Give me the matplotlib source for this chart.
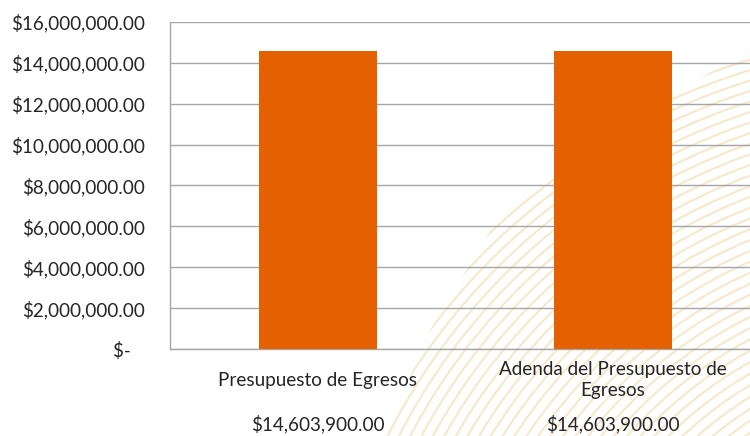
import matplotlib.pyplot as plt
import numpy as np
from matplotlib.patches import Polygon, Circle

categorias = ['Presupuesto de Egresos', 'Adenda del Presupuesto de\nEgresos']
valores = [14603900, 14603900]
etiquetas_valor = ['$14,603,900.00', '$14,603,900.00']
ticks = [0, 2000000, 4000000, 6000000, 8000000, 10000000, 12000000, 14000000, 16000000]

plt.rcParams['font.family'] = ['Lato', 'DejaVu Sans']

fig = plt.figure(figsize=(7.5, 4.36), dpi=100)
fig.patch.set_facecolor('white')

# fondo rayado tenue (esquina inferior derecha), arcos concentricos
bg = fig.add_axes([0, 0, 1, 1], zorder=0)
bg.set_xlim(0, 750)
bg.set_ylim(436, 0)
bg.set_aspect('auto')
bg.axis('off')
zona = Polygon([(385, 436), (430, 330), (500, 215), (580, 150), (670, 95),
                (750, 50), (750, 436)], closed=True, facecolor='none', edgecolor='none')
bg.add_patch(zona)
for r in np.arange(150, 900, 10):
    c = Circle((950, 720), r, facecolor='none', edgecolor='#F4E2B8', lw=1.5, alpha=0.75)
    bg.add_patch(c)
    c.set_clip_path(zona)

ax = fig.add_axes([170 / 750, 1 - 349 / 436, 590 / 750, 327 / 436], zorder=1)
ax.patch.set_alpha(0)
x = np.arange(len(categorias))
ax.bar(x, valores, width=0.4, color='#E46000', zorder=3)
ax.set_xlim(-0.5, 1.5)
ax.set_ylim(0, 16000000)
ax.set_yticks(ticks)
ax.set_yticklabels(['$-   '] + ['${:,.2f}'.format(t) for t in ticks[1:]])
ax.yaxis.grid(True, color='#A6A6A6', lw=1.0, zorder=0)
ax.tick_params(axis='y', length=0, pad=18, labelsize=13.6, labelcolor='#262626')
ax.set_xticks([])
for s in ['top', 'right']:
    ax.spines[s].set_visible(False)
for s in ['left', 'bottom']:
    ax.spines[s].set_color('#A6A6A6')
    ax.spines[s].set_linewidth(1.0)

for i, (cat, val) in enumerate(zip(categorias, etiquetas_valor)):
    ax.annotate(cat, (i, 0), xytext=(0, -31), textcoords='offset pixels',
                ha='center', va='center', fontsize=13.6, color='#262626',
                linespacing=1.3, annotation_clip=False)
    ax.annotate(val, (i, 0), xytext=(0, -75), textcoords='offset pixels',
                ha='center', va='center', fontsize=13.6, color='#262626',
                annotation_clip=False)

fig.savefig('out.png', dpi=100)
